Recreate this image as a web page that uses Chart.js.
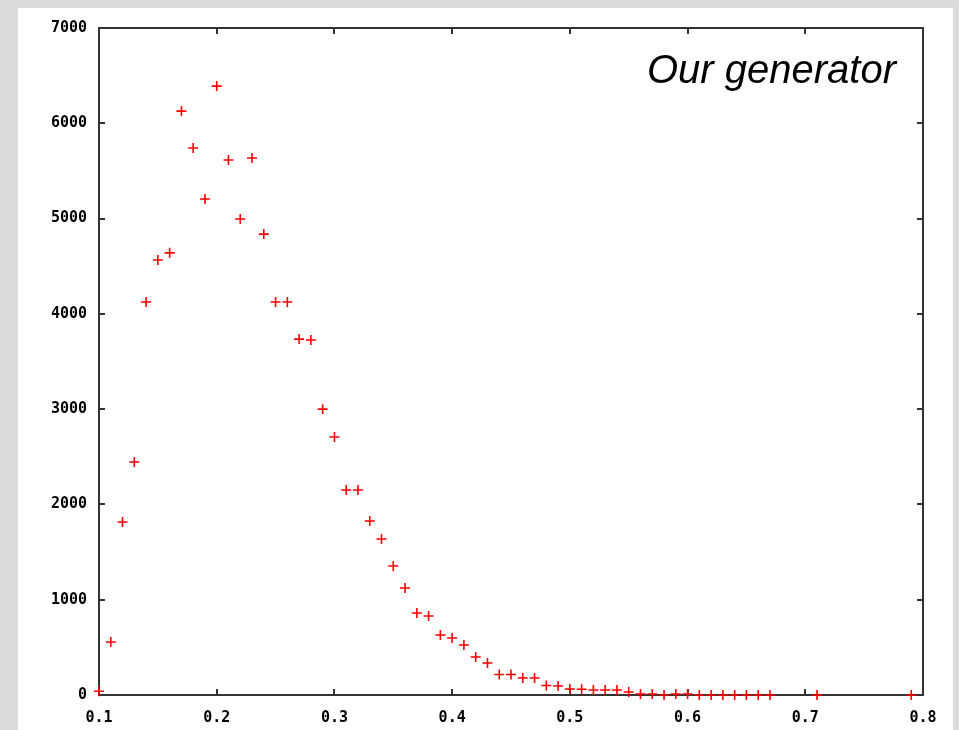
<!DOCTYPE html>
<html>
<head>
<meta charset="utf-8">
<script src="https://cdn.jsdelivr.net/npm/chart.js@4/dist/chart.umd.min.js"></script>
<style>
  html, body { margin: 0; padding: 0; background: #dcdcdc; }
  #panel { position: absolute; left: 18px; top: 8px; width: 935px; height: 722px; background: #fff; }
  #wrap { position: absolute; left: 0; top: 0; width: 959px; height: 730px; }
</style>
</head>
<body>
<div id="panel"></div>
<div id="wrap"><canvas id="chart"></canvas></div>
<script>
// sample positions (x) and how many hits landed there (y)
const xValues = [
  0.10, 0.11, 0.12, 0.13, 0.14, 0.15, 0.16, 0.17, 0.18, 0.19,
  0.20, 0.21, 0.22, 0.23, 0.24, 0.25, 0.26, 0.27, 0.28, 0.29,
  0.30, 0.31, 0.32, 0.33, 0.34, 0.35, 0.36, 0.37, 0.38, 0.39,
  0.40, 0.41, 0.42, 0.43, 0.44, 0.45, 0.46, 0.47, 0.48, 0.49,
  0.50, 0.51, 0.52, 0.53, 0.54, 0.55, 0.56, 0.57, 0.58, 0.59,
  0.60, 0.61, 0.62, 0.63, 0.64, 0.65, 0.66, 0.67, 0.71, 0.79
];
const counts = [
  40, 556, 1815, 2445, 4124, 4565, 4640, 6128, 5740, 5205,
  6390, 5614, 4995, 5635, 4837, 4124, 4124, 3735, 3725, 3000,
  2707, 2151, 2151, 1826, 1637, 1354, 1123, 860, 829, 630,
  598, 525, 399, 336, 215, 215, 178, 178, 100, 94,
  63, 60, 52, 52, 52, 31, 10, 10, 0, 10,
  10, 0, 0, 0, 0, 0, 0, 0, 0, 0
];
const xTicks = [0.1, 0.2, 0.3, 0.4, 0.5, 0.6, 0.7, 0.8];
const yTicks = [0, 1000, 2000, 3000, 4000, 5000, 6000, 7000];
const label = "Our generator";

const points = xValues.map((x, i) => ({ x: x, y: counts[i] }));

// gnuplot style box: frame plus inward ticks on all four sides
const frame = {
  id: "frame",
  beforeDatasetsDraw(chart) {
    const { ctx, chartArea: a, scales } = chart;
    ctx.save();
    ctx.strokeStyle = "#333";
    ctx.lineWidth = 2;
    ctx.strokeRect(a.left, a.top, a.right - a.left, a.bottom - a.top);
    const t = 6;
    ctx.beginPath();
    xTicks.forEach(v => {
      const px = Math.round(scales.x.getPixelForValue(v));
      ctx.moveTo(px, a.bottom); ctx.lineTo(px, a.bottom - t);
      ctx.moveTo(px, a.top); ctx.lineTo(px, a.top + t);
    });
    yTicks.forEach(v => {
      const py = Math.round(scales.y.getPixelForValue(v));
      ctx.moveTo(a.left, py); ctx.lineTo(a.left + t, py);
      ctx.moveTo(a.right, py); ctx.lineTo(a.right - t, py);
    });
    ctx.stroke();
    ctx.restore();
  },
  afterDraw(chart) {
    const { ctx } = chart;
    ctx.save();
    ctx.fillStyle = "#000";
    ctx.font = "italic 40px 'Liberation Sans', Arial, sans-serif";
    ctx.textAlign = "right";
    ctx.textBaseline = "alphabetic";
    ctx.fillText(label, 896, 83);
    ctx.restore();
  }
};

const tickFont = { family: "'DejaVu Sans Mono', monospace", size: 15, weight: "bold" };

new Chart(document.getElementById("chart"), {
  type: "scatter",
  data: {
    datasets: [{
      data: points,
      pointStyle: "cross",
      pointRadius: 5,
      pointHoverRadius: 5,
      borderColor: "#ff0000",
      backgroundColor: "#ff0000",
      pointBorderWidth: 1.6,
      clip: false
    }]
  },
  options: {
    responsive: true,
    maintainAspectRatio: false,
    animation: false,
    layout: { padding: { top: 28, right: 36, left: 0, bottom: 0 } },
    plugins: {
      legend: { display: false },
      tooltip: { enabled: false },
      title: { display: false }
    },
    scales: {
      x: {
        type: "linear",
        min: 0.1,
        max: 0.8,
        afterFit(scale) { scale.height = 35; },
        afterBuildTicks(scale) { scale.ticks = xTicks.map(v => ({ value: v })); },
        grid: { display: false, drawTicks: false },
        border: { display: false },
        ticks: {
          color: "#000",
          font: tickFont,
          padding: 14,
          maxRotation: 0,
          callback: v => Number(v).toFixed(1)
        }
      },
      y: {
        type: "linear",
        min: 0,
        max: 7000,
        afterFit(scale) { scale.width = 99; },
        afterBuildTicks(scale) { scale.ticks = yTicks.map(v => ({ value: v })); },
        grid: { display: false, drawTicks: false },
        border: { display: false },
        ticks: {
          color: "#000",
          font: tickFont,
          padding: 12,
          callback: v => String(v)
        }
      }
    }
  },
  plugins: [frame]
});
</script>
</body>
</html>
